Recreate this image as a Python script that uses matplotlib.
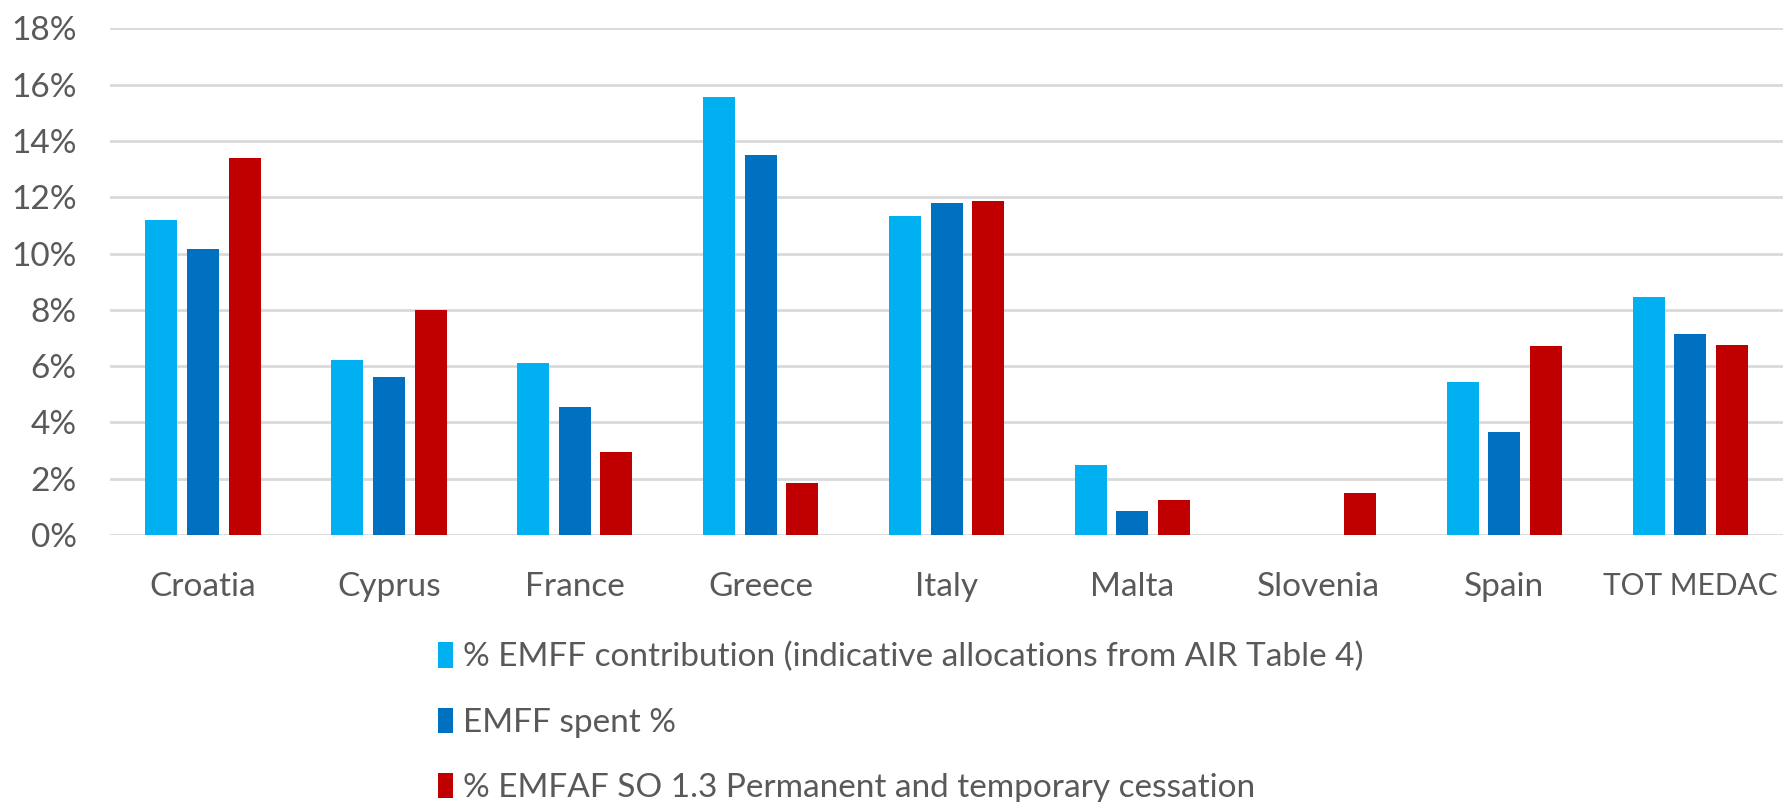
import numpy as np
import matplotlib.pyplot as plt
from matplotlib.ticker import PercentFormatter

plt.rcParams['font.family'] = ['Lato', 'DejaVu Sans']

countries = ['Croatia', 'Cyprus', 'France', 'Greece', 'Italy', 'Malta', 'Slovenia', 'Spain', 'TOT MEDAC']
emff_contribution = [11.2, 6.2, 6.1, 15.55, 11.35, 2.5, 0.0, 5.45, 8.45]
emff_spent = [10.15, 5.6, 4.55, 13.5, 11.8, 0.85, 0.0, 3.65, 7.15]
emfaf_cessation = [13.4, 8.0, 2.95, 1.85, 11.85, 1.25, 1.5, 6.7, 6.75]

labels = ['% EMFF contribution (indicative allocations from AIR Table 4)',
          'EMFF spent %',
          '% EMFAF SO 1.3 Permanent and temporary cessation']
colors = ['#00B0F0', '#0070C0', '#C00000']

fig = plt.figure(figsize=(17.84, 8.02), dpi=100)
ax = fig.add_axes([0.0617, 0.333, 0.9378, 0.6316])

x = np.arange(len(countries))
w = 0.172
off = 0.224
series = [emff_contribution, emff_spent, emfaf_cessation]
for i, (vals, lab, c) in enumerate(zip(series, labels, colors)):
    ax.bar(x + (i - 1) * off, vals, width=w, color=c, label=lab, zorder=3)

ax.set_xlim(-0.5, len(countries) - 0.5)
ax.set_ylim(0, 18)
ax.set_yticks(np.arange(0, 19, 2))
ax.yaxis.set_major_formatter(PercentFormatter(decimals=0))
ax.set_xticks(x)
ax.set_xticklabels(countries)
ax.grid(axis='y', color='#D9D9D9', linewidth=2, zorder=0)
for s in ax.spines.values():
    s.set_visible(False)
ax.tick_params(length=0, labelsize=24, labelcolor='#595959')
ax.tick_params(axis='x', pad=27)
ax.tick_params(axis='y', pad=24)
# last label is wide, keep it inside the figure
ax.get_xticklabels()[-1].set_fontsize(21.5)

fig.legend(loc='upper left', bbox_to_anchor=(0.2455, 0.1993), frameon=False,
           fontsize=24, labelcolor='#595959', handlelength=0.45, handleheight=0.8,
           handletextpad=0.3, labelspacing=1.05, borderaxespad=0, borderpad=0)

fig.savefig('out.png', dpi=100, facecolor='white')
